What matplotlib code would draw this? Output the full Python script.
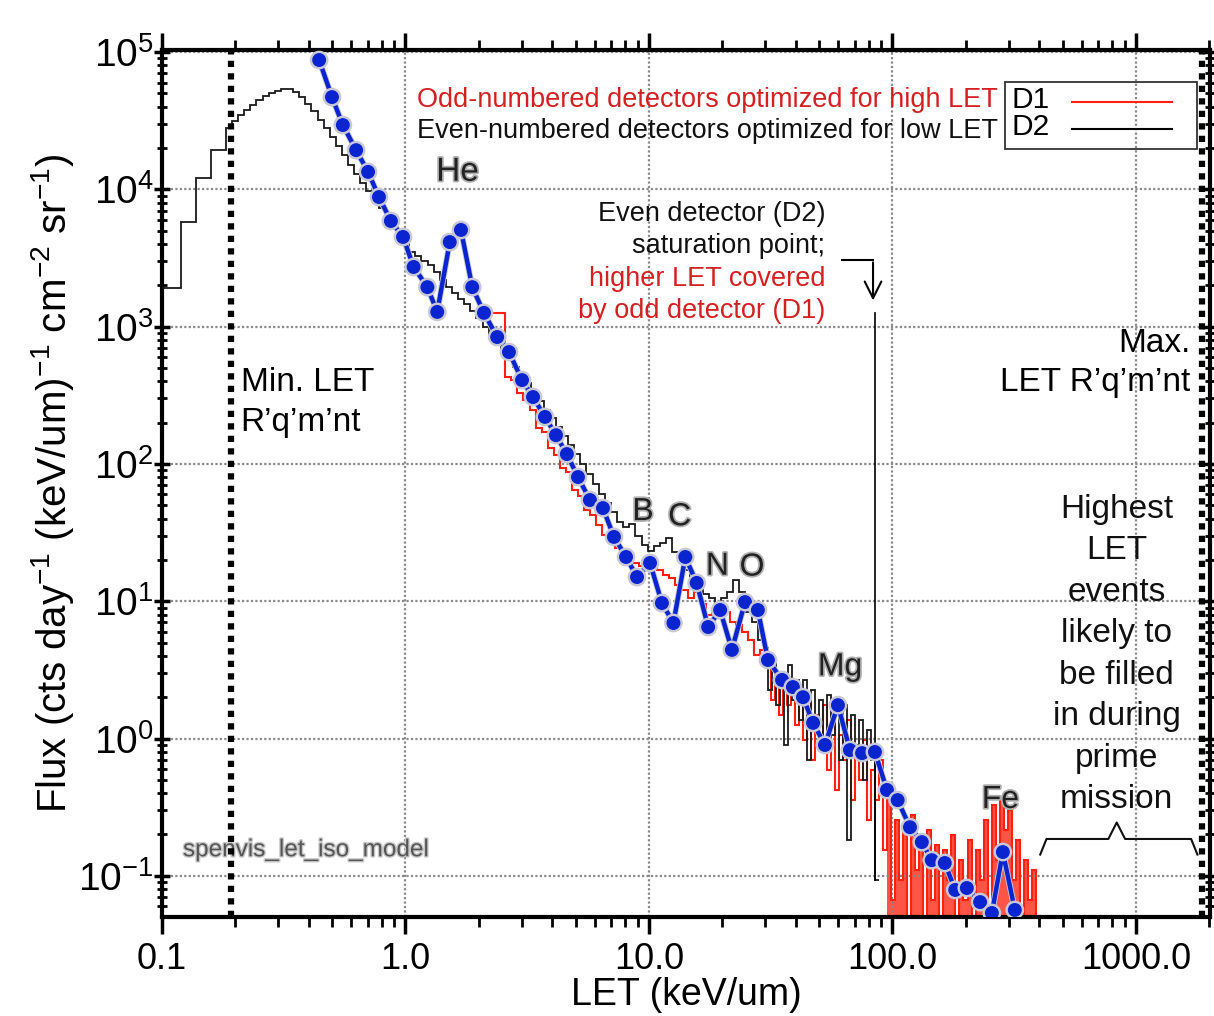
import numpy as np
import matplotlib
matplotlib.use('Agg')
import matplotlib.pyplot as plt
import matplotlib.patheffects as pe

plt.rcParams['font.family'] = ['Liberation Sans', 'DejaVu Sans']
plt.rcParams['mathtext.fontset'] = 'custom'
plt.rcParams['mathtext.rm'] = 'Liberation Sans'
plt.rcParams['mathtext.it'] = 'Liberation Sans'

# ---- data ----
# blue points (LET keV/um, flux)
let_blue = [0.442, 0.499, 0.553, 0.627, 0.702, 0.778, 0.871, 0.977, 1.08, 1.23,
            1.35, 1.52, 1.69, 1.88, 2.10, 2.38, 2.66, 3.01, 3.34, 3.74,
            4.15, 4.60, 5.11, 5.72, 6.47, 7.18, 8.05, 8.93, 10.1, 11.3,
            12.6, 14.1, 15.7, 17.5, 19.6, 21.9, 24.8, 28.0, 30.8, 35.2,
            39.0, 42.9, 47.2, 52.8, 59.7, 66.9, 75.0, 84.7, 94.9, 105,
            118, 132, 145, 164, 181, 202, 229, 256, 284, 318]
flux_blue = [87500, 47000, 29400, 19300, 13400, 8790, 5880, 4500, 2720, 1940,
             1280, 4130, 5060, 1940, 1260, 840, 653, 408, 307, 220,
             162, 118, 80.3, 54.6, 47.7, 29.4, 21.0, 15.0, 19.0, 9.70,
             6.94, 21.0, 13.6, 6.49, 8.63, 4.42, 9.86, 8.63, 3.73, 2.67,
             2.37, 2.00, 1.30, 0.897, 1.75, 0.824, 0.783, 0.798, 0.422, 0.356,
             0.226, 0.176, 0.130, 0.124, 0.0789, 0.0815, 0.0644, 0.0536, 0.149, 0.0564]

# D2 (even detector): wide bins at low LET, log bins 0.183-29.6, finer log bins 29.6-88
d2_wide_edges = [0.1, 0.12, 0.138, 0.159, 0.183]
d2_wide_logflux = [3.28, 3.76, 4.08, 4.29]
d2_mid_range = (0.183, 29.6)
d2_mid_logflux = [
    4.447, 4.498, 4.541, 4.578, 4.614, 4.651, 4.680, 4.702, 4.716, 4.731,
    4.731, 4.709, 4.672, 4.622, 4.571, 4.505, 4.447, 4.381, 4.316, 4.250,
    4.177, 4.112, 4.046, 3.988, 3.930, 3.864, 3.806, 3.747, 3.689, 3.602,
    3.544, 3.514, 3.478, 3.449, 3.398, 3.340, 3.289, 3.245, 3.201, 3.165,
    3.114, 3.063, 2.997, 2.939, 2.881, 2.823, 2.764, 2.706, 2.648, 2.589,
    2.524, 2.458, 2.393, 2.335, 2.269, 2.203, 2.138, 2.072, 2.000, 1.927,
    1.854, 1.781, 1.716, 1.650, 1.577, 1.541, 1.563, 1.475, 1.410, 1.366,
    1.402, 1.424, 1.461, 1.359, 1.300, 1.228, 1.155, 1.096, 1.053, 1.023,
    0.987, 1.023, 1.067, 1.155, 1.067, 0.922, 0.849, 0.718]
d2_high_range = (29.6, 88.0)
d2_high_logflux = [
    0.659, 0.354, 0.572, 0.244, 0.485, -0.047, 0.536, 0.281, 0.426,
    0.135, 0.426, -0.156, 0.354, 0.062, 0.281, -0.084, 0.317, 0.026, 0.208,
    -0.156, 0.244, -0.739, 0.171, -0.047, 0.135, -0.302, 0.062, -0.156, -1.030]

# D1 (odd detector): log bins 2.29-30.4, finer log bins 30.4-403
d1_low_range = (2.29, 30.4)
d1_low_logflux = [
    3.099, 3.099, 2.633, 2.611, 2.517, 2.466, 2.393, 2.262, 2.233, 2.116,
    2.065, 1.970, 1.941, 1.810, 1.766, 1.665, 1.628, 1.555, 1.482, 1.446,
    1.388, 1.359, 1.300, 1.279, 1.257, 1.242, 1.264, 1.228, 1.191, 1.169,
    1.118, 1.082, 1.023, 1.067, 0.980, 0.900, 0.936, 0.878, 0.922, 0.849,
    0.828, 0.776, 0.718, 0.608, 0.645]
d1_high_range = (30.4, 403.0)
d1_high_logflux = [
    0.572, 0.281, 0.485, 0.171, 0.426, 0.244, 0.354, 0.099, 0.317,
    -0.011, 0.281, -0.156, 0.171, -0.047, 0.244, -0.229, 0.135, -0.375, 0.026,
    -0.156, 0.135, -0.448, -0.047, -0.302, -0.011, -0.593, -0.229, -0.448, -0.156,
    -0.812, -0.448, -1.176, -0.593, -1.030, -0.666, -1.322, -0.557, -0.957, -0.739,
    -1.358, -0.666, -1.176, -0.775, -1.322, -0.812, -1.030, -0.702, -1.358, -0.885,
    -1.176, -0.739, -1.358, -0.812, -1.030, -0.593, -1.212, -0.484, -0.885, -0.448,
    -0.666, -0.520, -1.030, -0.739, -1.358, -0.885, -1.176, -0.957, -1.358]

min_let = 0.192
max_let = 1866
sat_let = 84.7

x_ticks = [0.1, 1, 10, 100, 1000]
x_labels = ['0.1', '1.0', '10.0', '100.0', '1000.0']
y_ticks = [1e-1, 1e0, 1e1, 1e2, 1e3, 1e4, 1e5]
y_labels = ['$10^{-1}$', '$10^{0}$', '$10^{1}$', '$10^{2}$', '$10^{3}$', '$10^{4}$', '$10^{5}$']


def hist_edges(rng, n):
    return np.geomspace(rng[0], rng[1], n + 1)


# ---- figure ----
fig = plt.figure(figsize=(12.14, 10.16), dpi=100)
ax = fig.add_axes([162/1214, 99/1016, 1048/1214, 867/1016])
ax.set_xscale('log')
ax.set_yscale('log')
ymin = 10**-1.300
ax.set_xlim(0.1, 2014)
ax.set_ylim(ymin, 10**5.015)

ax.grid(True, which='major', color='#8a8a8a', linestyle=(0, (1, 1)), linewidth=1.6)

# D2 histogram
d2_edges = np.concatenate([d2_wide_edges[:-1],
                           hist_edges(d2_mid_range, len(d2_mid_logflux))[:-1],
                           hist_edges(d2_high_range, len(d2_high_logflux))])
d2_vals = 10 ** np.array(d2_wide_logflux + d2_mid_logflux + d2_high_logflux)
ax.stairs(d2_vals, d2_edges, color='#1a1a1a', linewidth=1.3, baseline=None, zorder=3)

# D1 histogram
d1_edges = np.concatenate([hist_edges(d1_low_range, len(d1_low_logflux))[:-1],
                           hist_edges(d1_high_range, len(d1_high_logflux))])
d1_vals = 10 ** np.array(d1_low_logflux + d1_high_logflux)
ax.stairs(d1_vals, d1_edges, color='#ff2010', linewidth=1.5, baseline=None, zorder=2)

# the sparse high-LET counts of D1 look like a solid red mass down to the axis
hi = d1_edges[:-1] >= 95
ax.stairs(d1_vals[hi], d1_edges[np.r_[hi, False] | np.r_[False, hi]], fill=True,
          color='#ff2a18', alpha=0.8, baseline=ymin * 0.5, zorder=1)

# blue curve
ax.plot(let_blue, flux_blue, color='#0a24d0', linewidth=3.2, marker='o', markersize=9,
        markeredgecolor='#0a24d0', zorder=5,
        path_effects=[pe.withStroke(linewidth=4.5, foreground='#c8c8d8')])

# requirement lines
ax.axvline(min_let, color='black', linestyle=(0, (1, 1)), linewidth=4.5, zorder=4)
ax.axvline(max_let, color='black', linestyle=(0, (1, 1)), linewidth=4.5, zorder=4)

# saturation marker
ax.plot([sat_let, sat_let], [1257, 0.093], color='black', linewidth=1.2, zorder=4)
ax.plot([62.1, 83.2], [3055, 3055], color='black', linewidth=1.5, zorder=4)
ax.annotate('', xy=(83.2, 1480), xytext=(83.2, 3080),
            arrowprops=dict(arrowstyle='->', color='black', lw=1.5, mutation_scale=30))

# axes styling
for s in ax.spines.values():
    s.set_linewidth(3)
ax.set_xticks(x_ticks)
ax.set_xticklabels(x_labels)
ax.set_yticks(y_ticks)
ax.set_yticklabels(y_labels)
ax.tick_params(axis='both', which='major', width=2.5, length=12,
               direction='out', top=True, right=True)
ax.tick_params(axis='both', which='minor', width=2, length=7, direction='out',
               top=True, right=True)
ax.tick_params(axis='x', labelsize=26, pad=6)
ax.tick_params(axis='y', which='both', direction='inout', labelsize=28, pad=0)

ax.set_xlabel('LET (keV/um)', fontsize=27, labelpad=0)
ax.set_ylabel('Flux (cts day$^{-1}$ (keV/um)$^{-1}$ cm$^{-2}$ sr$^{-1}$)', fontsize=29, labelpad=2)

tf = ax.transAxes
shadow = [pe.withStroke(linewidth=2.5, foreground='#b0b0b0')]

ax.text(0.798, 0.942, 'Odd-numbered detectors optimized for high LET', transform=tf,
        ha='right', va='center', fontsize=19.5, color='#d42020')
ax.text(0.798, 0.907, 'Even-numbered detectors optimized for low LET', transform=tf,
        ha='right', va='center', fontsize=19.5, color='#111111')

# legend box
ax.add_patch(plt.Rectangle((0.804, 0.886), 0.184, 0.077, transform=tf, fill=False,
                           edgecolor='#333333', linewidth=1.3, zorder=6))
ax.text(0.811, 0.942, 'D1', transform=tf, ha='left', va='center', fontsize=21.5, zorder=7)
ax.text(0.811, 0.911, 'D2', transform=tf, ha='left', va='center', fontsize=21.5, zorder=7)
ax.plot([0.868, 0.964], [0.940, 0.940], transform=tf, color='#ff2010', linewidth=1.5, zorder=7)
ax.plot([0.868, 0.964], [0.909, 0.909], transform=tf, color='black', linewidth=1.5, zorder=7)

ax.text(0.282, 0.859, 'He', transform=tf, ha='center', va='center', fontsize=24,
        color='#222222', path_effects=shadow)

sat_lines = [('Even detector (D2)', '#111111'), ('saturation point;', '#111111'),
             ('higher LET covered', '#d42020'), ('by odd detector (D1)', '#d42020')]
for k, (txt, col) in enumerate(sat_lines):
    ax.text(0.633, 0.811 - k * 0.0375, txt, transform=tf, ha='right', va='center',
            fontsize=19.5, color=col)

ax.text(0.075, 0.617, 'Min. LET', transform=tf, ha='left', va='center', fontsize=24)
ax.text(0.075, 0.570, 'R\u2019q\u2019m\u2019nt', transform=tf, ha='left', va='center', fontsize=24)
ax.text(0.981, 0.662, 'Max.', transform=tf, ha='right', va='center', fontsize=24)
ax.text(0.981, 0.617, 'LET R\u2019q\u2019m\u2019nt', transform=tf, ha='right', va='center', fontsize=24)

hl = ['Highest', 'LET', 'events', 'likely to', 'be filled', 'in during', 'prime', 'mission']
for k, txt in enumerate(hl):
    ax.text(0.911, 0.470 - k * 0.0478, txt, transform=tf, ha='center', va='center',
            fontsize=24, color='#111111')

# curly brace under the last text block
bx0, bx1, bxm = 0.838, 0.988, 0.911
by0, by1, byt = 0.072, 0.090, 0.109
brace_x = [bx0, bx0 + 0.006, bxm - 0.008, bxm, bxm + 0.008, bx1 - 0.006, bx1]
brace_y = [by0, by1, by1, byt, by1, by1, by0]
ax.plot(brace_x, brace_y, transform=tf, color='#111111', linewidth=1.5, zorder=6)

for txt, fx, fy in [('B', 0.459, 0.467), ('C', 0.494, 0.461), ('N', 0.530, 0.404),
                    ('O', 0.563, 0.403), ('Mg', 0.647, 0.288), ('Fe', 0.800, 0.135)]:
    ax.text(fx, fy, txt, transform=tf, ha='center', va='center', fontsize=23,
            color='#222222', path_effects=shadow, zorder=8)

ax.text(0.020, 0.077, 'spenvis_let_iso_model', transform=tf, ha='left', va='center',
        fontsize=17.5, color='#555555', path_effects=[pe.withStroke(linewidth=2, foreground='#c8c8c8')])

fig.savefig('out.png', dpi=100)
